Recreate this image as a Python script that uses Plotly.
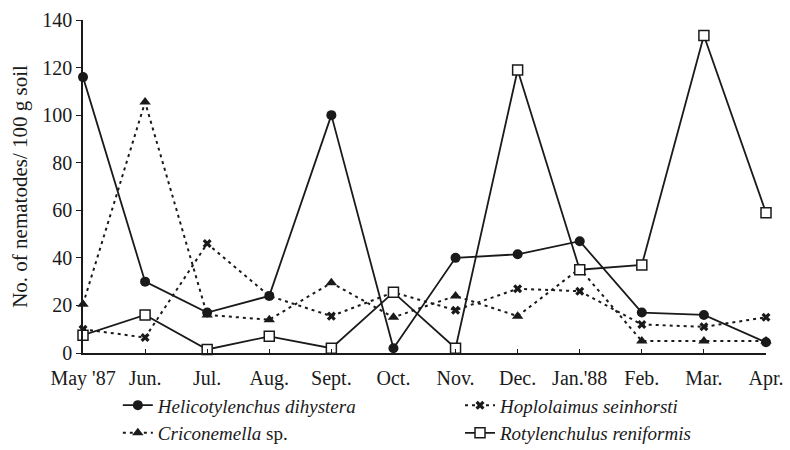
import plotly.graph_objects as go

# Sampling months, May 1987 – April 1988
months = ["May '87", "Jun.", "Jul.", "Aug.", "Sept.", "Oct.", "Nov.",
          "Dec.", "Jan.'88", "Feb.", "Mar.", "Apr."]

# Nematode counts per 100 g soil
helicotylenchus = [116, 30, 17, 24, 100, 2, 40, 41.5, 47, 17, 16, 4.5]
hoplolaimus = [10, 6.5, 46, 24, 15.5, 25.5, 18, 27, 26, 12, 11, 15]
criconemella = [20.5, 105.5, 16, 14, 29.5, 15, 24, 15.5, 35.5, 5, 5, 5]
rotylenchulus = [7.5, 16, 1.5, 7, 2, 25.5, 2, 119, 35, 37, 133.5, 59]

x = list(range(len(months)))
INK = "#1a1a1a"
SERIF = "Liberation Serif"
DOTTED = "3px,4px"

fig = go.Figure()

# Left legend column: Helicotylenchus, Criconemella
fig.add_trace(go.Scatter(
    x=x, y=helicotylenchus, mode="lines+markers",
    name="<i>Helicotylenchus dihystera</i>", legend="legend",
    line=dict(color=INK, width=1.8),
    marker=dict(symbol="circle", size=10, color=INK),
    cliponaxis=False,
))
fig.add_trace(go.Scatter(
    x=x, y=criconemella, mode="lines+markers",
    name="<i>Criconemella</i> sp.", legend="legend",
    line=dict(color=INK, width=2, dash=DOTTED),
    marker=dict(symbol="triangle-up", size=10, color=INK),
    cliponaxis=False,
))
# Right legend column: Hoplolaimus, Rotylenchulus
fig.add_trace(go.Scatter(
    x=x, y=hoplolaimus, mode="lines+markers",
    name="<i>Hoplolaimus seinhorsti</i>", legend="legend2",
    line=dict(color=INK, width=2, dash=DOTTED),
    marker=dict(symbol="x", size=8, color=INK),
    cliponaxis=False,
))
fig.add_trace(go.Scatter(
    x=x, y=rotylenchulus, mode="lines+markers",
    name="<i>Rotylenchulus reniformis</i>", legend="legend2",
    line=dict(color=INK, width=1.8),
    marker=dict(symbol="square", size=10, color="white",
                line=dict(color=INK, width=1.5)),
    cliponaxis=False,
))

legend_style = dict(
    orientation="v", yanchor="top", y=-0.10, xanchor="left",
    font=dict(family=SERIF, size=19, color=INK),
    bgcolor="rgba(0,0,0,0)", traceorder="normal", tracegroupgap=0,
)

fig.update_layout(
    width=790, height=450,
    margin=dict(l=83, r=24, t=20, b=97, autoexpand=False),
    paper_bgcolor="white", plot_bgcolor="white",
    font=dict(family=SERIF, size=20, color=INK),
    showlegend=True,
    legend=dict(x=0.051, **legend_style),
    legend2=dict(x=0.552, **legend_style),
)

fig.update_xaxes(
    range=[0, 11], tickvals=x, ticktext=months,
    showline=True, linecolor=INK, linewidth=1.5,
    ticks="inside", ticklen=4, tickcolor=INK,
    showgrid=False, zeroline=False,
    ticklabelstandoff=6,
)
fig.update_yaxes(
    range=[0, 140], tickvals=list(range(0, 141, 20)),
    showline=True, linecolor=INK, linewidth=1.5,
    ticks="outside", ticklen=5, tickcolor=INK,
    showgrid=False, zeroline=False,
    title=dict(text="No. of nematodes/ 100 g soil",
               font=dict(family=SERIF, size=21, color=INK), standoff=9),
)

fig.write_html("out.html")
